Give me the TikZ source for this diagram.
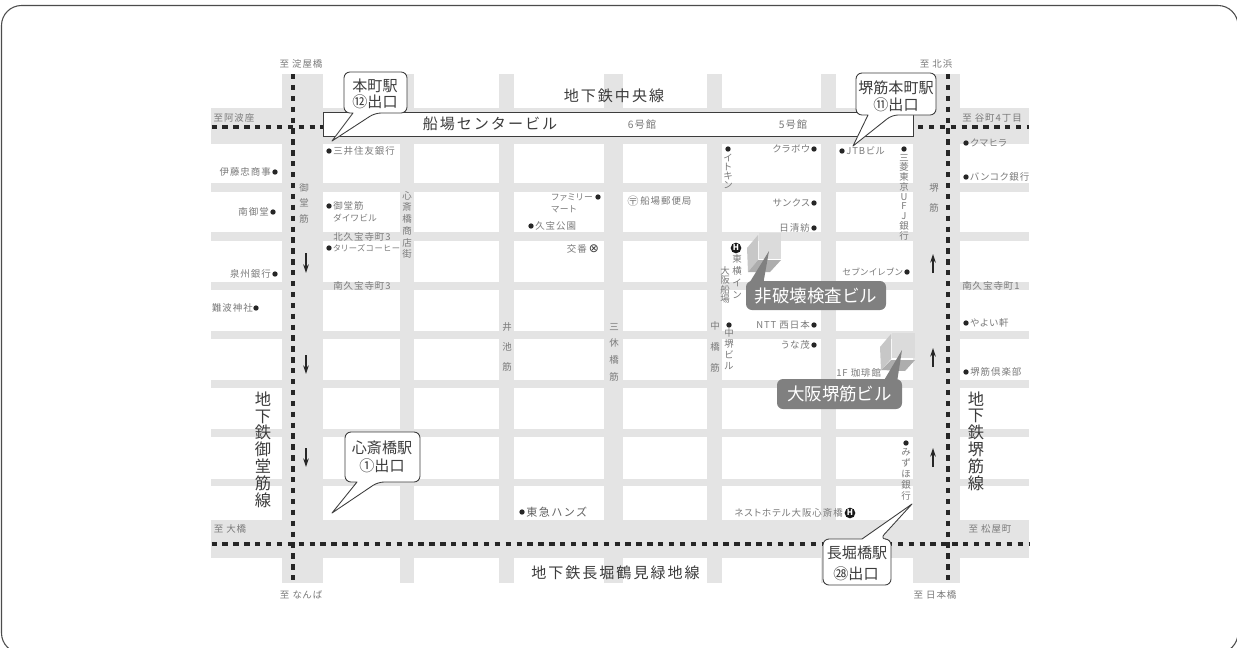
\documentclass[tikz,border=0pt]{standalone}
\usepackage{fontspec}
\usetikzlibrary{arrows.meta}
\lineskiplimit=-10pt
\lineskip=0pt
\normallineskiplimit=-10pt
\normallineskip=0pt
\newfontfamily\jp{Noto Sans CJK JP}
\newfontfamily\jplab[LetterSpace=10,RawFeature={+palt}]{Noto Sans CJK JP}
\newfontfamily\jpwide[LetterSpace=13]{Noto Sans CJK JP}
\newfontfamily\dejavu{DejaVu Sans}
\definecolor{road}{HTML}{E4E4E4}
\definecolor{lab}{HTML}{7A7A7A}
\definecolor{ink}{HTML}{3C3C3C}
\definecolor{tagc}{HTML}{808080}
\tikzset{
  lbl/.style={font=\jplab\fontsize{7.1}{9}\selectfont,text=lab,inner sep=0pt},
  lw/.style={lbl,anchor=west},
  le/.style={lbl,anchor=east},
  kana/.style={font=\jplab\fontsize{6.6}{9}\selectfont},
  vlab/.style={font=\jplab\fontsize{7.1}{#1}\selectfont,text=lab,inner sep=0pt,align=center},
  vbig/.style={font=\jp\fontsize{12.2}{#1}\selectfont,text=ink,inner sep=0pt,align=center},
  title/.style={font=\jpwide\fontsize{11.3}{14}\selectfont,text=ink,inner sep=0pt},
  callout/.style={draw=ink,line width=0.65pt,fill=white,line join=round},
  ctext/.style={font=\jp\fontsize{11.3}{14}\selectfont,text=ink,inner sep=0pt},
  tagbox/.style={fill=tagc,rounded corners=4.5pt,inner sep=0pt,text=white,font=\jp\fontsize{13.1}{16}\selectfont},
  spot/.style={circle,fill=black!85,inner sep=0pt,minimum size=4pt},
  hotel/.style={circle,fill=black!90,inner sep=0pt,minimum size=8pt,text=white,font=\jp\bfseries\fontsize{6}{6}\selectfont},
  rail/.style={line width=3.7pt,draw=black!85,dash pattern=on 4pt off 4.17pt},
  flow/.style={draw=black!85,line width=0.8pt,-{Stealth[length=6.5pt,width=4.2pt]}},
}
\begin{document}
\begin{tikzpicture}[x=0.75pt,y=-0.75pt]
\useasboundingbox (0,0) rectangle (1237,647);
\clip (0,0) rectangle (1237,647);
\fill[white] (0,0) rectangle (1237,647);
% outer frame
\draw[draw=black!70,line width=0.8pt,rounded corners=15pt] (1.5,5.5) rectangle (1238,653);
% roads
\foreach \a/\b in {282/323,400/414,499/514,604/623,707/722,821/836,913/960}
  \fill[road] (\a,74) rectangle (\b,583);
\foreach \a/\b in {108/144,183/192,232/241,282/290,331/339,380/388,429/437,479/486,520/558}
  \fill[road] (211,\a) rectangle (1029,\b);
% rails
\draw[rail] (293,74) -- (293,583);
\draw[rail] (948,74) -- (948,583);
\draw[rail] (211.5,127) -- (324,127);
\draw[rail] (918,127) -- (1029,127);
\draw[rail] (211.5,544) -- (1029,544);
% building strip
\node[draw=ink,line width=0.65pt,fill=white,minimum width=442pt,minimum height=18pt,inner sep=0pt] (strip) at (618.5,124) {};
% building blocks
\fill[black!22] (747,248) -- (758,235) -- (758,260) -- (748,272) -- cycle;
\fill[black!14] (759,233) -- (781,233) -- (781,259) -- (759,259) -- cycle;
\fill[black!32] (748,272) -- (758,260) -- (781,260) -- (770,272) -- cycle;
\fill[black!22] (880,347) -- (891,334) -- (891,359) -- (881,370) -- cycle;
\fill[black!14] (892,333) -- (915,333) -- (915,358) -- (892,358) -- cycle;
\fill[black!32] (881,370) -- (891,360) -- (915,360) -- (905,371) -- cycle;
% arrows
\draw[flow] (306,253) -- (306,273);
\draw[flow] (306,355) -- (306,374);
\draw[flow] (306,448) -- (306,467);
\draw[flow] (933,273) -- (933,254);
\draw[flow] (933,367) -- (933,348);
\draw[flow] (933,467) -- (933,448);
% spots
\foreach \i/\x/\y in {1/329/151,2/275/172,3/273/212,4/329/206,5/329/248,6/275/274,7/256/308,
  8/598/197,9/531/226,10/814/149,11/842/151,12/728/149,13/904/149,14/814/203,15/814/228,
  16/907/272,17/966/143,18/966/177,19/966/323,20/966/372,21/814/325,22/814/345,23/729/325,
  24/906/443,25/522/512}
  \node[spot] (spot\i) at (\x,\y) {};
% titles
\node[title] (t1) at (614,96) {地下鉄中央線};
\node[title] (t2) at (490,124) {船場センタービル};
\node[title] (t3) at (615.5,573) {地下鉄長堀鶴見緑地線};
% outer direction labels
\node[lbl] (d1) at (301,64) {至 淀屋橋};
\node[lbl] (d2) at (936,64) {至 北浜};
\node[lbl] (d3) at (234,118) {至阿波座};
\node[lw] (d4) at (962,118) {至 谷町4丁目};
\node[lbl] (d5) at (230,529) {至 大橋};
\node[lbl] (d6) at (301,595) {至 なんば};
\node[lbl] (d7) at (990,529) {至 松屋町};
\node[lbl] (d8) at (935,595) {至 日本橋};
% left-hand labels
\node[le] (a1) at (271,172) {伊藤忠商事};
\node[le] (a2) at (269,212) {南御堂};
\node[le] (a3) at (271,274) {泉州銀行};
\node[le] (a4) at (253,308) {難波神社};
\node[lw] (b1) at (333,151) {三井住友銀行};
\node[lw] (b2) at (333,206) {御堂筋};
\node[lw,kana] (b3) at (333,218) {ダイワビル};
\node[lw] (b4) at (333,237) {北久宝寺町3};
\node[lw,font=\jplab\fontsize{6.2}{9}\selectfont] (b5) at (333,248) {タリーズコーヒー};
\node[lw] (b6) at (333,286) {南久宝寺町3};
\node[le,kana] (c1) at (593,197) {ファミリー};
\node[lw,kana] (c2) at (551,209) {マート};
\node[lw] (c3) at (535,226) {久宝公園};
\node[le] (c4) at (587,249) {交番};
\node[font=\dejavu\fontsize{9}{9}\selectfont,text=ink,inner sep=0pt] (c5) at (594,249) {⊗};
% middle and right labels
\node[lbl,font=\jplab\fontsize{7.7}{9}\selectfont] (e1) at (642,125) {6号館};
\node[lbl,font=\jplab\fontsize{7.7}{9}\selectfont] (e2) at (793,125) {5号館};
\node[le] (e3) at (810,149) {クラボウ};
\node[lw] (e4) at (846,151) {JTBビル};
\node[font=\jp\fontsize{8.5}{9}\selectfont,text=lab,inner sep=0pt] (e5) at (633,201) {〶};
\node[lw] (e6) at (640,201) {船場郵便局};
\node[le] (e7) at (810,203) {サンクス};
\node[le] (e8) at (810,228) {日清紡};
\node[le,kana] (e9) at (903,272) {セブンイレブン};
\node[le] (e10) at (810,325) {NTT 西日本};
\node[le] (e11) at (810,345) {うな茂};
\node[lw] (e12) at (836,373) {1F 珈琲館};
\node[lw] (f1) at (970,143) {クマヒラ};
\node[lw] (f2) at (970,177) {バンコク銀行};
\node[lw] (f3) at (962,286) {南久宝寺町1};
\node[lw] (f4) at (970,323) {やよい軒};
\node[lw] (f5) at (970,372) {堺筋倶楽部};
\node[le] (g1) at (843,513) {ネストホテル大阪心斎橋};
\node[hotel] (h1) at (850,513) {H};
\node[hotel] (h2) at (736,248) {H};
\node[font=\jpwide\fontsize{8.3}{10}\selectfont,text=lab!80!black,inner sep=0pt,anchor=west] (g2) at (526,512) {東急ハンズ};
% vertical labels
\node[vlab=11.6] (v1) at (304,203) {御\\堂\\筋};
\node[vlab=8.8] (v2) at (407,225) {心\\斎\\橋\\商\\店\\街};
\node[vlab=6.9] (v3) at (728,171.5) {イ\\ト\\キ\\ン};
\node[vlab=7.3] (v4) at (904,197) {三\\菱\\東\\京\\U\\F\\J\\銀\\行};
\node[vlab=9] (v5) at (737,277) {東\\横\\イ\\ン};
\node[vlab=7.1] (v6) at (725,285) {大\\阪\\船\\場};
\node[vlab=8.2] (v7) at (729,349.5) {中\\堺\\ビ\\ル};
\node[vlab=15.5] (v8) at (715,347) {中\\橋\\筋};
\node[vlab=15] (v9) at (507,347) {井\\池\\筋};
\node[vlab=12.5] (v10) at (614,352) {三\\休\\橋\\筋};
\node[vlab=8.3] (v11) at (906,474.5) {み\\ず\\ほ\\銀\\行};
\node[vlab=15] (v12) at (934,198) {堺\\筋};
\node[vbig=12.6] (v13) at (263,449.5) {地\\下\\鉄\\御\\堂\\筋\\線};
\node[vbig=12.6] (v14) at (976,441) {地\\下\\鉄\\堺\\筋\\線};
% callouts
\draw[callout] (353,113) [rounded corners=4.5pt] -- (344,113) -- (344,72) -- (407,72) -- (407,113) -- (375,113) [sharp corners] -- (332,141) -- cycle;
\node[ctext] (k1) at (375,86) {本町駅};
\node[ctext] (k2) at (375,102) {⑫出口};
\draw[callout] (868,115) [rounded corners=4.5pt] -- (856,115) -- (856,73) -- (936,73) -- (936,115) -- (892,115) [sharp corners] -- (853,146) -- cycle;
\node[ctext] (k3) at (896,88) {堺筋本町駅};
\node[ctext] (k4) at (896,105) {⑪出口};
\draw[callout] (357,482) [rounded corners=4.5pt] -- (345,482) -- (345,432) -- (420,432) -- (420,482) -- (378,482) [sharp corners] -- (332,513) -- cycle;
\node[ctext] (k5) at (382,448) {心斎橋駅};
\node[ctext] (k6) at (382,466) {①出口};
\draw[callout] (862,539) [rounded corners=4.5pt] -- (823,539) -- (823,585) -- (891,585) -- (891,539) -- (880,539) [sharp corners] -- (912,504) -- cycle;
\node[ctext] (k7) at (857,553) {長堀橋駅};
\node[ctext] (k8) at (856,574) {㉘出口};
% grey tags
\fill[tagc] (769,251) -- (748,285) -- (763,285) -- cycle;
\node[tagbox,minimum width=105pt,minimum height=21.75pt] (tag1) at (816,295.5) {非破壊検査ビル};
\fill[tagc] (902,350) -- (883,382) -- (897,382) -- cycle;
\node[tagbox,minimum width=93.75pt,minimum height=22.5pt] (tag2) at (839.5,394) {大阪堺筋ビル};
\end{tikzpicture}
\end{document}
